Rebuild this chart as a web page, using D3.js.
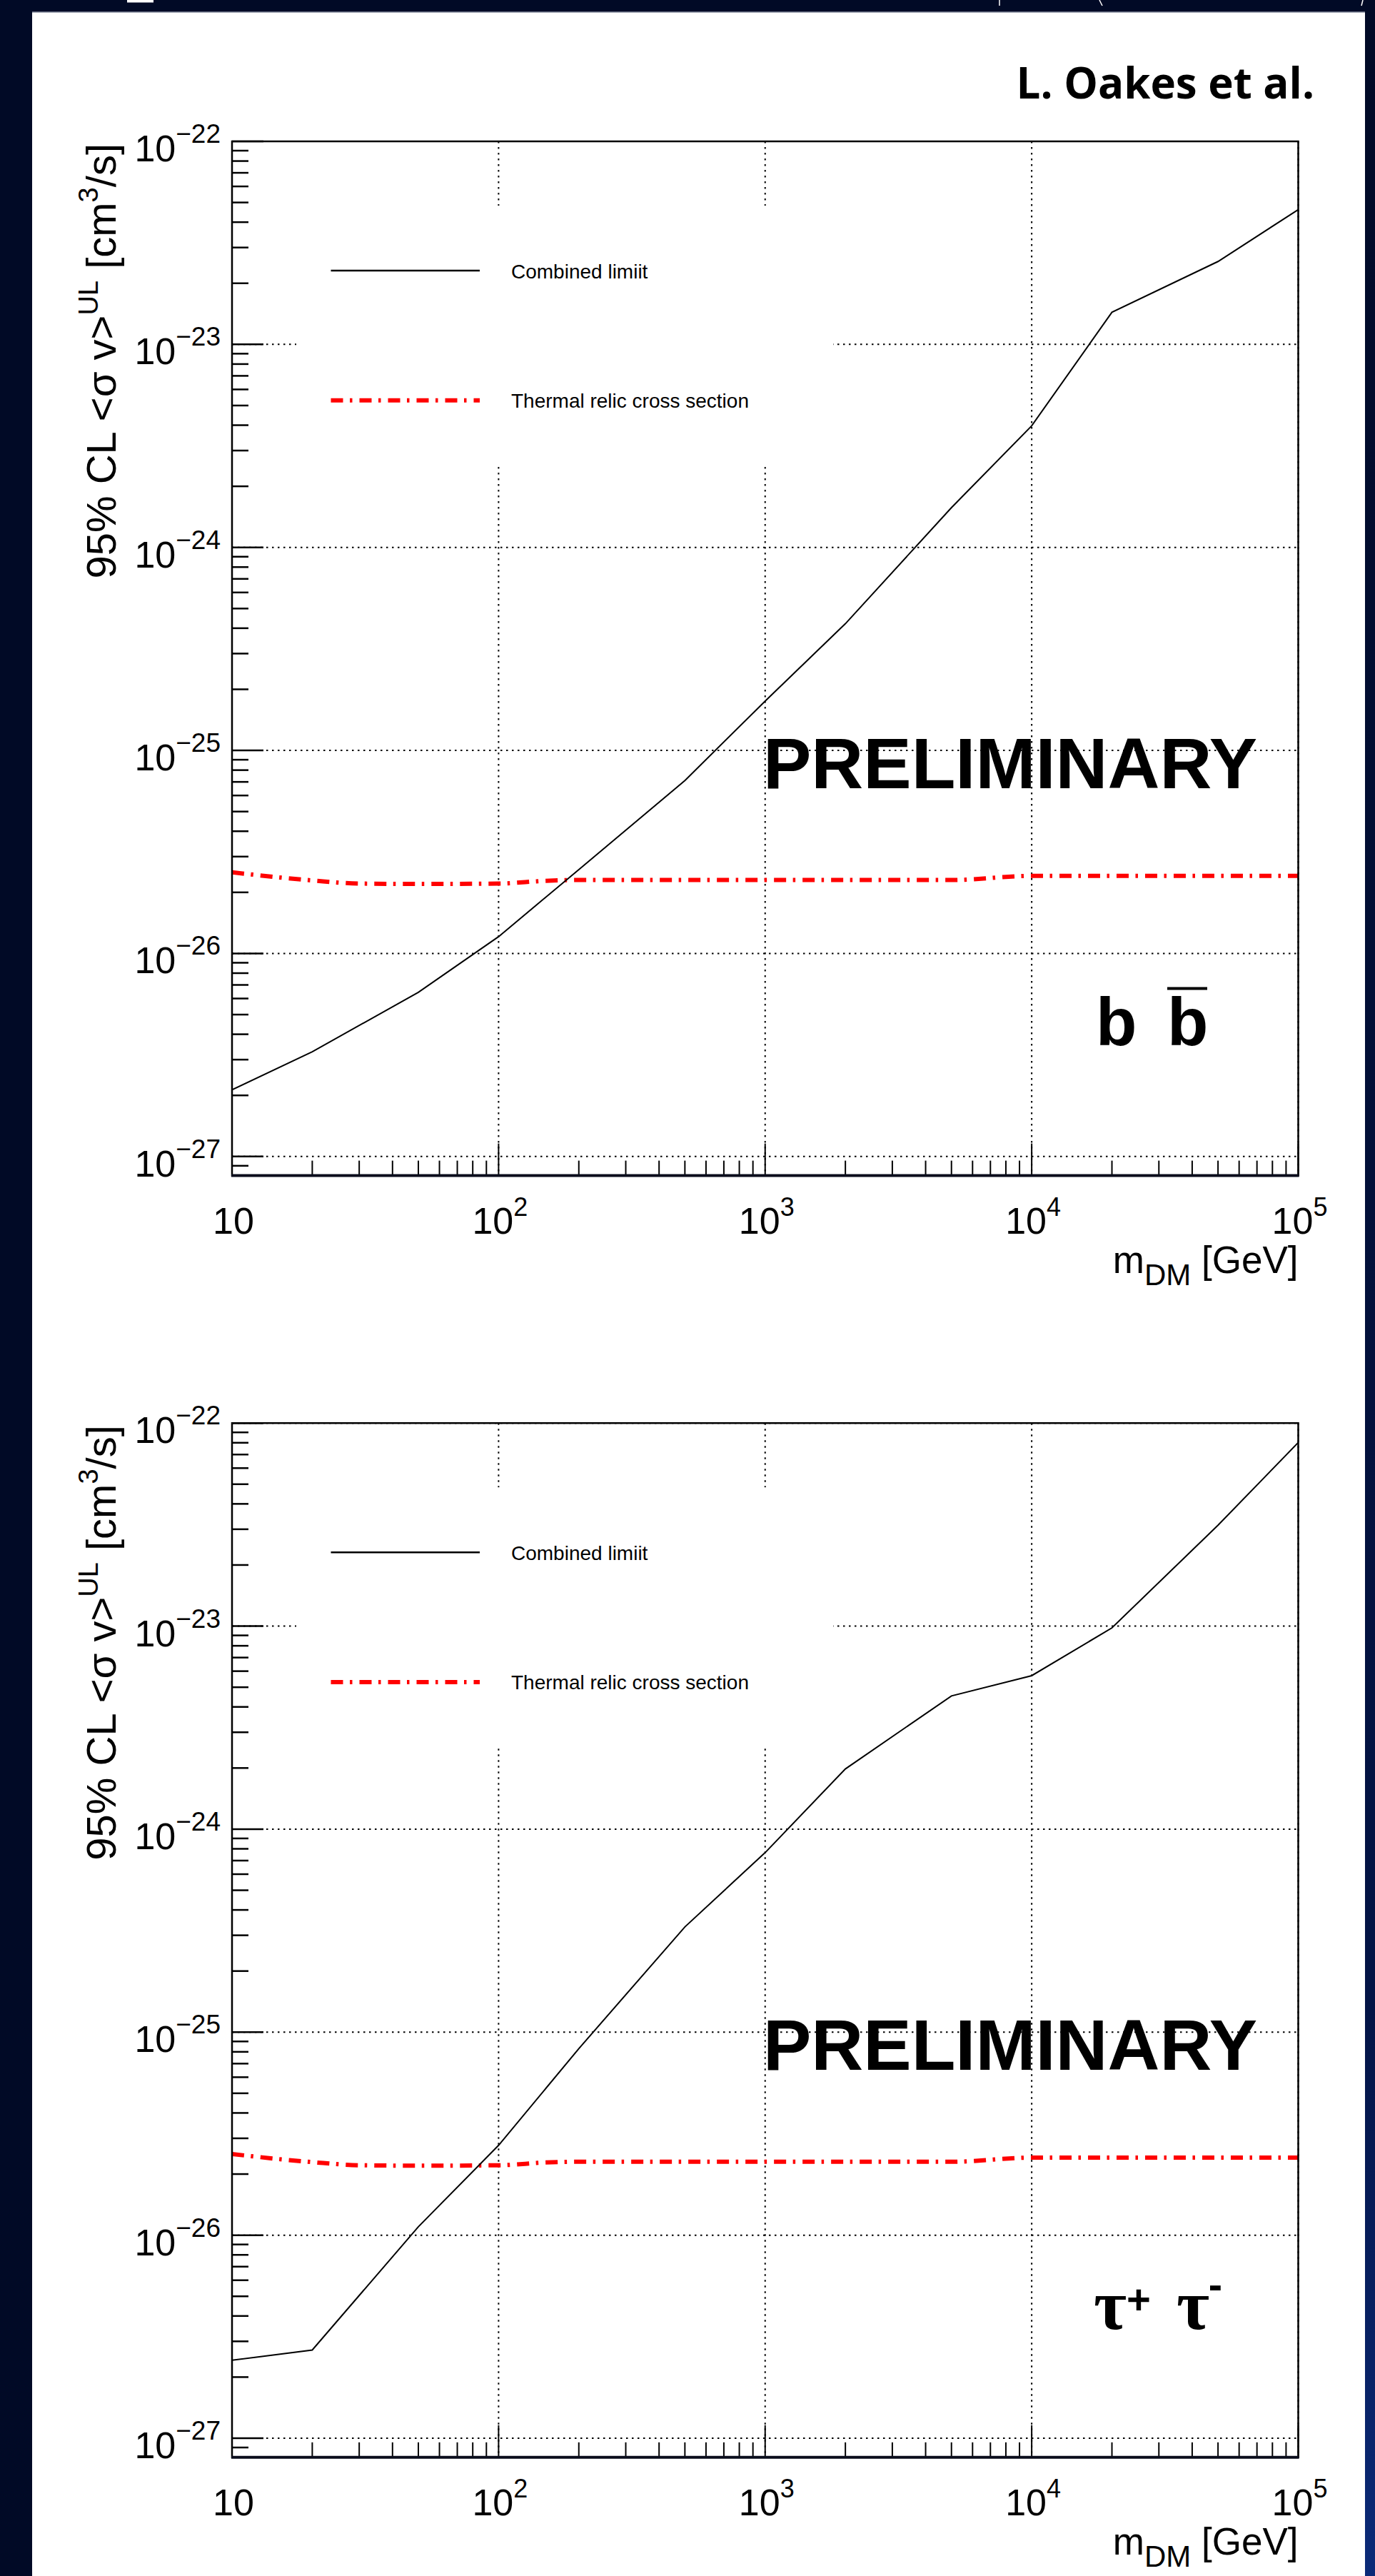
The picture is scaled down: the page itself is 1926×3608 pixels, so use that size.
<!DOCTYPE html>
<html>
<head>
<meta charset="utf-8">
<script src="https://cdnjs.cloudflare.com/ajax/libs/d3/7.8.5/d3.min.js"></script>
<style>
    html, body { margin: 0; padding: 0; background: #010a26; }
    svg { display: block; }
    text { font-family: "Liberation Sans", Arial, Helvetica, sans-serif; fill: #000; }
</style>
</head>
<body>
<svg id="chart" width="1926" height="3608"></svg>
<script>
// DM masses (GeV) of the limit points
const masses = [10, 20, 50, 100, 200, 500, 1000, 2000, 5000, 10000, 20000, 50000, 100000];

// combined 95% CL upper limits <sigma v> [cm^3/s]
const limitBB = [2.13e-27, 3.28e-27, 6.44e-27, 1.21e-26, 2.59e-26, 7.11e-26, 1.75e-25, 4.21e-25, 1.57e-24, 3.97e-24, 1.44e-23, 2.56e-23, 4.61e-23];
const limitTauTau = [2.42e-27, 2.72e-27, 1.10e-26, 2.77e-26, 8.30e-26, 3.30e-25, 7.66e-25, 1.98e-24, 4.53e-24, 5.70e-24, 9.8e-24, 3.14e-23, 8.02e-23];

// thermal relic cross section
const relicMasses = [10, 20, 30, 50, 100, 150, 200, 500, 1000, 2000, 5000, 10000, 20000, 50000, 100000];
const relicValues = [2.51e-26, 2.29e-26, 2.21e-26, 2.20e-26, 2.21e-26, 2.28e-26, 2.30e-26, 2.30e-26, 2.30e-26, 2.30e-26, 2.30e-26, 2.41e-26, 2.41e-26, 2.41e-26, 2.41e-26];

const legendLabels = ["Combined limiit", "Thermal relic cross section"];
const xDomain = [10, 1e5];
const yDomain = [8.05e-28, 1e-22];

const largeur = 1926,
    hauteur = 3608;

const plotLeft = 325, plotRight = 1818.5, plotTop = 198, plotBottom = 1646.6;
const panelShift = 1795.2;

const svg = d3.select("#chart");

const x = d3.scaleLog().domain(xDomain).range([plotLeft, plotRight]);
const y = d3.scaleLog().domain(yDomain).range([plotBottom, plotTop]);

// slide background
const defs = svg.append("defs");
const grad = defs.append("linearGradient")
    .attr("id", "edgeBlue")
    .attr("x1", 0).attr("y1", 0).attr("x2", 0).attr("y2", 1);
grad.append("stop").attr("offset", "0%").attr("stop-color", "#010a26");
grad.append("stop").attr("offset", "78%").attr("stop-color", "#031446");
grad.append("stop").attr("offset", "100%").attr("stop-color", "#0b2a78");

defs.append("clipPath").attr("id", "plotClip")
    .append("rect")
    .attr("x", plotLeft).attr("y", plotTop)
    .attr("width", plotRight - plotLeft).attr("height", plotBottom - plotTop);

svg.append("rect").attr("width", largeur).attr("height", hauteur).attr("fill", "#010a26");
svg.append("rect").attr("x", 1912).attr("width", 14).attr("height", hauteur).attr("fill", "url(#edgeBlue)");
svg.append("rect").attr("x", 45).attr("y", 17).attr("width", 1867).attr("height", hauteur - 17).attr("fill", "#fff");
svg.append("line").attr("x1", 45).attr("x2", 1912).attr("y1", 17).attr("y2", 17).attr("stroke", "#8a8fa0").attr("stroke-width", 1.5);

// cut-off slide title above the panel
svg.append("rect").attr("x", 178).attr("y", 0).attr("width", 37).attr("height", 3.5).attr("fill", "#fff");
[[1400, 1400], [1540, 1544], [1909, 1907]].forEach((p) => {
    svg.append("line").attr("x1", p[0]).attr("x2", p[1]).attr("y1", 0).attr("y2", 8)
        .attr("stroke", "#fff").attr("stroke-width", 1.5);
});

svg.append("text")
    .text("L. Oakes et al.")
    .attr("x", 1841).attr("y", 138)
    .attr("text-anchor", "end")
    .style("font-family", "'Open Sans', 'DejaVu Sans', sans-serif")
    .style("font-weight", "700")
    .style("font-size", "60px");

function drawPanel(offset, limit, channel) {
    const g = svg.append("g").attr("transform", "translate(0," + offset + ")");

    const xTicks = x.ticks();
    const yTicks = y.ticks().filter((t) => t >= yDomain[0] && t <= yDomain[1]);
    const isMajor = (t) => Math.abs(Math.log10(t) - Math.round(Math.log10(t))) < 1e-6;
    const xMajors = xTicks.filter(isMajor);
    const yMajors = yTicks.filter(isMajor);

    // dotted grid
    const grid = g.append("g")
        .attr("stroke", "#000")
        .attr("stroke-width", 2)
        .attr("stroke-dasharray", "2.5,5.5");
    grid.selectAll(".gx")
        .data(xMajors)
        .enter()
        .append("line")
        .attr("x1", (d) => x(d)).attr("x2", (d) => x(d))
        .attr("y1", plotTop).attr("y2", plotBottom);
    grid.selectAll(".gy")
        .data(yMajors)
        .enter()
        .append("line")
        .attr("x1", plotLeft).attr("x2", plotRight)
        .attr("y1", (d) => y(d)).attr("y2", (d) => y(d));

    // legend box fill hides the grid behind it
    g.append("rect")
        .attr("x", 415).attr("y", 288)
        .attr("width", 752).attr("height", 365)
        .attr("fill", "#fff");

    g.append("text")
        .text("PRELIMINARY")
        .attr("x", 1069).attr("y", 1104)
        .style("font-weight", "700")
        .style("font-size", "101px");

    // curves
    const lineLimit = d3.line()
        .x((d, i) => x(masses[i]))
        .y((d) => y(d));

    const lineRelic = d3.line()
        .x((d, i) => x(relicMasses[i]))
        .y((d) => y(d))
        .curve(d3.curveMonotoneX);

    const curves = g.append("g").attr("clip-path", "url(#plotClip)");
    curves.append("path")
        .attr("d", lineRelic(relicValues))
        .attr("fill", "none")
        .attr("stroke", "#ff0000")
        .attr("stroke-width", 6)
        .attr("stroke-dasharray", "17,9.5,3.5,10");
    curves.append("path")
        .attr("d", lineLimit(limit))
        .attr("fill", "none")
        .attr("stroke", "#000")
        .attr("stroke-width", 2);

    // legend
    g.append("line")
        .attr("x1", 463.5).attr("x2", 672).attr("y1", 379).attr("y2", 379)
        .attr("stroke", "#000").attr("stroke-width", 2.5);
    g.append("line")
        .attr("x1", 463.5).attr("x2", 672).attr("y1", 560.7).attr("y2", 560.7)
        .attr("stroke", "#ff0000").attr("stroke-width", 6)
        .attr("stroke-dasharray", "17,9.5,3.5,10");
    g.selectAll(".legTxt")
        .data(legendLabels)
        .enter()
        .append("text")
        .text((d) => d)
        .attr("x", 716)
        .attr("y", (d, i) => (i == 0 ? 390 : 571))
        .style("font-size", "28px");

    // axis ticks, pointing into the frame
    g.append("g")
        .selectAll("line")
        .data(yTicks)
        .enter()
        .append("line")
        .attr("x1", plotLeft)
        .attr("x2", (d) => plotLeft + (isMajor(d) ? 44 : 23))
        .attr("y1", (d) => y(d)).attr("y2", (d) => y(d))
        .attr("stroke", "#000").attr("stroke-width", 2.5);
    g.append("g")
        .selectAll("line")
        .data(xTicks)
        .enter()
        .append("line")
        .attr("x1", (d) => x(d)).attr("x2", (d) => x(d))
        .attr("y1", plotBottom)
        .attr("y2", (d) => plotBottom - (isMajor(d) ? 45 : 21))
        .attr("stroke", "#000").attr("stroke-width", 2);

    // frame
    g.append("rect")
        .attr("x", plotLeft).attr("y", plotTop)
        .attr("width", plotRight - plotLeft).attr("height", plotBottom - plotTop)
        .attr("fill", "none").attr("stroke", "#000").attr("stroke-width", 2.5);
    g.append("line")
        .attr("x1", plotLeft - 1).attr("x2", plotRight + 1).attr("y1", plotBottom).attr("y2", plotBottom)
        .attr("stroke", "#0a0d1c").attr("stroke-width", 4);

    // y tick labels
    const yLab = g.append("g")
        .selectAll("text")
        .data(yMajors)
        .enter()
        .append("text")
        .attr("x", 309)
        .attr("y", (d) => y(d) + 28)
        .attr("text-anchor", "end")
        .style("font-size", "52px");
    yLab.append("tspan").text("10");
    yLab.append("tspan")
        .attr("dy", -26)
        .style("font-size", "37px")
        .text((d) => "\u2212" + Math.abs(Math.round(Math.log10(d))));

    // x tick labels
    const xLab = g.append("g")
        .selectAll("text")
        .data(xMajors)
        .enter()
        .append("text")
        .attr("x", (d) => x(d) + 2)
        .attr("y", plotBottom + 81.4)
        .attr("text-anchor", "middle")
        .style("font-size", "52px");
    xLab.append("tspan").text("10");
    xLab.filter((d) => Math.round(Math.log10(d)) > 1)
        .append("tspan")
        .attr("dy", -25)
        .style("font-size", "36px")
        .text((d) => Math.round(Math.log10(d)));

    // axis titles
    const xTitle = g.append("text")
        .attr("x", plotRight)
        .attr("y", 1783)
        .attr("text-anchor", "end")
        .style("font-size", "53px");
    xTitle.append("tspan").text("m");
    xTitle.append("tspan").attr("dy", 17).style("font-size", "42px").text("DM");
    xTitle.append("tspan").attr("dy", -17).text(" [GeV]");

    const yTitle = g.append("text")
        .attr("transform", "translate(162,201) rotate(-90)")
        .attr("text-anchor", "end")
        .style("font-size", "58px");
    yTitle.append("tspan").text("95% CL <\u03c3 v>");
    yTitle.append("tspan").attr("dy", -25).style("font-size", "38px").text("UL");
    yTitle.append("tspan").attr("dy", 25).text(" [cm");
    yTitle.append("tspan").attr("dy", -25).style("font-size", "38px").text("3");
    yTitle.append("tspan").attr("dy", 25).text("/s]");

    // channel label
    if (channel == "bb") {
        g.append("text").text("b")
            .attr("x", 1535).attr("y", 1464)
            .style("font-weight", "700").style("font-size", "94px");
        g.append("text").text("b")
            .attr("x", 1635).attr("y", 1464)
            .style("font-weight", "700").style("font-size", "94px");
        g.append("rect")
            .attr("x", 1635).attr("y", 1382.5)
            .attr("width", 56).attr("height", 4)
            .attr("fill", "#000");
    } else {
        const tauFont = "'Liberation Serif', 'DejaVu Serif', serif";
        g.append("text").text("\u03c4")
            .attr("x", 1532).attr("y", 1466.5)
            .style("font-family", tauFont).style("font-weight", "700").style("font-size", "100px");
        g.append("text").text("\u03c4")
            .attr("x", 1648).attr("y", 1466.5)
            .style("font-family", tauFont).style("font-weight", "700").style("font-size", "100px");
        g.append("text").text("+")
            .attr("x", 1595).attr("y", 1445.5)
            .attr("text-anchor", "middle")
            .style("font-weight", "700").style("font-size", "58px");
        g.append("text").text("-")
            .attr("x", 1702.5).attr("y", 1425)
            .attr("text-anchor", "middle")
            .style("font-weight", "700").style("font-size", "58px");
    }
}

drawPanel(0, limitBB, "bb");
drawPanel(panelShift, limitTauTau, "tautau");
</script>
</body>
</html>
